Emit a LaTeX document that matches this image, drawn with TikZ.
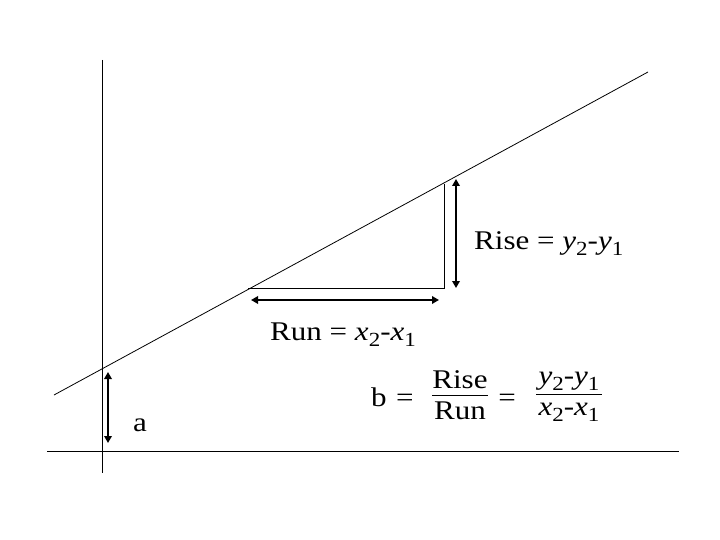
\documentclass[tikz,border=0pt]{standalone}
\usepackage{fontspec}
\setmainfont[FakeStretch=1.15]{Liberation Serif}
\usetikzlibrary{arrows.meta}
\newcommand{\sbs}[1]{\raisebox{-0.24em}{\fontsize{20}{20}\selectfont #1}}
\begin{document}
\begin{tikzpicture}[x=1pt,y=-1pt,
  thin line/.style={line width=0.8pt},
  axis/.style={line width=0.9pt},
  dimarrow/.style={line width=2.6pt,{Triangle[length=7pt,width=7.5pt]}-{Triangle[length=7pt,width=7.5pt]}},
  lbl/.style={font=\fontsize{27}{29}\selectfont, inner sep=0pt},
  bar/.style={line width=0.9pt}]
\useasboundingbox (0,0) rectangle (720,540);
% axes
\coordinate (ytop) at (102,60);
\coordinate (ybot) at (102,473);
\coordinate (xl) at (47,451);
\coordinate (xr) at (679,451);
\draw[axis] (ytop) -- (ybot);
\draw[axis] (xl) -- (xr);
% regression line
\coordinate (L1) at (54,395);
\coordinate (L2) at (648,72);
\draw[thin line] (L1) -- (L2);
% triangle
\coordinate (T1) at (248,288);
\coordinate (T2) at (444,288);
\coordinate (T3) at (444,184);
\draw[thin line] (T1) -- (T2) -- (T3);
% dimension arrows
\coordinate (R1) at (456,179);
\coordinate (R2) at (456,288);
\draw[dimarrow] (R1) -- (R2);
\coordinate (U1) at (251,300);
\coordinate (U2) at (439,300);
\draw[dimarrow] (U1) -- (U2);
\coordinate (A1) at (108,372);
\coordinate (A2) at (108,443);
\draw[dimarrow] (A1) -- (A2);
% labels
\node[lbl, anchor=base] (a) at (140,431) {a};
\node[lbl, anchor=base west] (rise) at (474,249) {Rise = \textit{y}\sbs{2}-\textit{y}\sbs{1}};
\node[lbl, anchor=base west] (run) at (270,340) {Run = \textit{x}\sbs{2}-\textit{x}\sbs{1}};
% formula
\node[lbl, anchor=base west] (b) at (371,406) {b};
\node[lbl, anchor=base] (eq1) at (405,406) {=};
\node[lbl, anchor=base] (num1) at (460,388) {Rise};
\node[lbl, anchor=base] (den1) at (460,419) {Run};
\draw[bar] (432,395) -- (488,395);
\node[lbl, anchor=base] (eq2) at (507,406) {=};
\node[lbl, anchor=base] (num2) at (569,384) {\textit{y}\sbs{2}-\textit{y}\sbs{1}};
\draw[bar] (536,394) -- (602,394);
\node[lbl, anchor=base] (den2) at (569,415) {\textit{x}\sbs{2}-\textit{x}\sbs{1}};
\end{tikzpicture}
\end{document}
